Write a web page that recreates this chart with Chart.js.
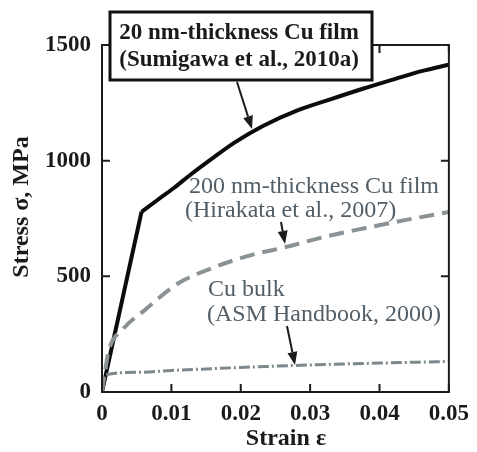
<!DOCTYPE html>
<html>
<head>
<meta charset="utf-8">
<script src="https://cdn.jsdelivr.net/npm/chart.js@4"></script>
<style>
  html, body { margin: 0; padding: 0; background: #fff; }
  #wrap { width: 477px; height: 452px; }
</style>
</head>
<body>
<div id="wrap"><canvas id="c" width="477" height="452"></canvas></div>
<script>
// stress-strain curves
// 20 nm film: elastic part up to the knee (index 1), then plastic part
const strain20 = [0, 0.0057, 0.008, 0.0105, 0.0127, 0.016, 0.0192, 0.0232, 0.028, 0.0328, 0.0376, 0.0424, 0.0462, 0.05]
const stress20 = [0, 779, 830, 885, 938, 1012, 1080, 1150, 1215, 1264, 1311, 1355, 1388, 1415]
const knee20 = 1

const strain200 = [0, 0.0005, 0.001, 0.0029, 0.0062, 0.011, 0.0158, 0.0215, 0.026, 0.032, 0.038, 0.044, 0.05]
const stress200 = [0, 100, 182, 268, 355, 470, 535, 592, 623, 670, 709, 745, 778]

const strainBulk = [0, 0.0003, 0.005, 0.01, 0.02, 0.03, 0.04, 0.05]
const stressBulk = [0, 72, 85, 93, 106, 117, 125, 132]

const xTicks = [0, 0.01, 0.02, 0.03, 0.04, 0.05]
const yTicks = [0, 500, 1000, 1500]

const serif = "'Liberation Serif', 'DejaVu Serif', serif"

function pts(xs, ys) {
  return xs.map((x, i) => ({ x: x, y: ys[i] }))
}

// frame, inward ticks, annotations and axis titles
const decor = {
  id: "decor",
  afterDraw(chart) {
    const { ctx, chartArea: a, scales } = chart
    const xs = scales.x, ys = scales.y
    ctx.save()
    ctx.strokeStyle = "#1c1c1c"
    ctx.lineWidth = 2
    ctx.strokeRect(a.left, a.top, a.right - a.left, a.bottom - a.top)

    const tl = 8
    ctx.beginPath()
    xTicks.forEach(v => {
      const px = xs.getPixelForValue(v)
      ctx.moveTo(px, a.bottom); ctx.lineTo(px, a.bottom - tl)
      ctx.moveTo(px, a.top); ctx.lineTo(px, a.top + tl)
    })
    yTicks.forEach(v => {
      const py = ys.getPixelForValue(v)
      ctx.moveTo(a.left, py); ctx.lineTo(a.left + tl, py)
      ctx.moveTo(a.right, py); ctx.lineTo(a.right - tl, py)
    })
    ctx.stroke()

    // label box for the 20 nm film
    ctx.fillStyle = "#fff"
    ctx.fillRect(110, 12, 262, 68)
    ctx.lineWidth = 3
    ctx.strokeStyle = "#111"
    ctx.strokeRect(110, 12, 262, 68)

    ctx.fillStyle = "#1a1a1a"
    ctx.textAlign = "center"
    ctx.textBaseline = "middle"
    ctx.font = "bold 23px " + serif
    ctx.fillText("20 nm-thickness Cu film", 239, 33)
    ctx.fillText("(Sumigawa et al., 2010a)", 239, 60)

    ctx.fillStyle = "#525e67"
    ctx.textAlign = "left"
    ctx.font = "24px " + serif
    ctx.fillText("200 nm-thickness Cu film", 189, 187)
    ctx.fillText("(Hirakata et al., 2007)", 185, 211)
    ctx.fillText("Cu bulk", 208, 290)
    ctx.fillText("(ASM Handbook, 2000)", 207, 315)

    arrow(ctx, 237, 82, 252, 129, "#1c1c1c")
    arrow(ctx, 281, 222, 285, 244, "#1c1c1c")
    arrow(ctx, 287, 326, 295, 365, "#1c1c1c")

    // axis titles
    ctx.fillStyle = "#1a1a1a"
    ctx.font = "bold 24px " + serif
    ctx.textAlign = "center"
    ctx.fillText("Strain \u03b5", 286, 439)
    ctx.translate(22, 207)
    ctx.rotate(-Math.PI / 2)
    ctx.fillText("Stress \u03c3, MPa", 0, 0)
    ctx.restore()
  }
}

function arrow(ctx, x1, y1, x2, y2, col) {
  const ang = Math.atan2(y2 - y1, x2 - x1)
  const hl = 13, hw = 5
  ctx.strokeStyle = col
  ctx.fillStyle = col
  ctx.lineWidth = 2
  ctx.beginPath()
  ctx.moveTo(x1, y1)
  ctx.lineTo(x2 - hl * Math.cos(ang), y2 - hl * Math.sin(ang))
  ctx.stroke()
  ctx.beginPath()
  ctx.moveTo(x2, y2)
  ctx.lineTo(x2 - hl * Math.cos(ang) + hw * Math.sin(ang), y2 - hl * Math.sin(ang) - hw * Math.cos(ang))
  ctx.lineTo(x2 - hl * Math.cos(ang) - hw * Math.sin(ang), y2 - hl * Math.sin(ang) + hw * Math.cos(ang))
  ctx.closePath()
  ctx.fill()
}

const film20 = pts(strain20, stress20)

new Chart(document.getElementById("c"), {
  type: "scatter",
  data: {
    datasets: [
      {
        label: "Cu bulk",
        data: pts(strainBulk, stressBulk),
        showLine: true,
        borderColor: "#7d888d",
        borderWidth: 3,
        borderDash: [11, 3, 2, 3],
        pointRadius: 0,
        cubicInterpolationMode: "monotone"
      },
      {
        label: "200 nm",
        data: pts(strain200, stress200),
        showLine: true,
        borderColor: "#8a9296",
        borderWidth: 4,
        borderDash: [15, 8],
        pointRadius: 0,
        cubicInterpolationMode: "monotone"
      },
      {
        label: "20 nm elastic",
        data: film20.slice(0, knee20 + 1),
        showLine: true,
        borderColor: "#0c0c0c",
        borderWidth: 4,
        pointRadius: 0,
        tension: 0
      },
      {
        label: "20 nm plastic",
        data: film20.slice(knee20),
        showLine: true,
        borderColor: "#0c0c0c",
        borderWidth: 4,
        pointRadius: 0,
        cubicInterpolationMode: "monotone"
      }
    ]
  },
  options: {
    responsive: false,
    animation: false,
    layout: { padding: { left: 0, right: 27, top: 45, bottom: 0 } },
    plugins: { legend: { display: false }, tooltip: { enabled: false } },
    scales: {
      x: {
        type: "linear",
        min: 0,
        max: 0.05,
        afterFit(s) { s.height = 60 },
        afterBuildTicks(s) { s.ticks = xTicks.map(v => ({ value: v })) },
        grid: { display: false, drawTicks: false },
        border: { display: false },
        ticks: {
          padding: 8,
          color: "#1a1a1a",
          font: { family: serif, size: 23, weight: "bold" },
          maxRotation: 0,
          callback: v => v === 0 ? "0" : v.toFixed(2)
        }
      },
      y: {
        min: 0,
        max: 1500,
        afterFit(s) { s.width = 102 },
        afterBuildTicks(s) { s.ticks = yTicks.map(v => ({ value: v })) },
        grid: { display: false, drawTicks: false },
        border: { display: false },
        ticks: {
          padding: 11,
          color: "#1a1a1a",
          font: { family: serif, size: 23, weight: "bold" },
          callback: v => String(v)
        }
      }
    }
  },
  plugins: [decor]
})
</script>
</body>
</html>
